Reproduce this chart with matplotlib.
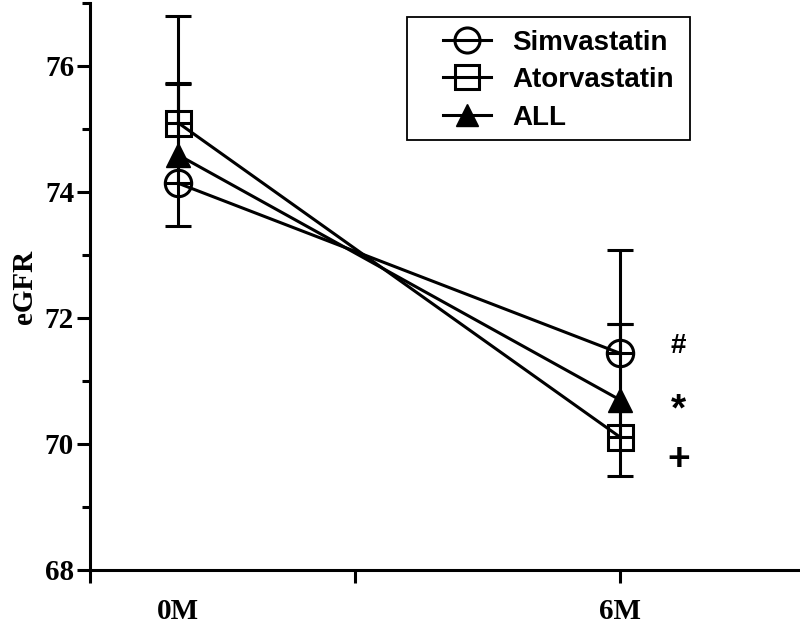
import matplotlib
matplotlib.use("Agg")
import matplotlib.pyplot as plt
from matplotlib.patches import Rectangle

# ── Data ──────────────────────────────────────────────────────────────────────
time_labels = ["0M", "6M"]
time_pos = [0.332, 2.0]

simva_mean = [74.14, 71.44]
simva_err_up = [1.59, 1.64]

atorva_mean = [75.10, 70.11]
atorva_err_up = [1.69, 1.79]

all_mean = [74.59, 70.70]
all_err = [1.13, 1.20]

marks = ["#", "*", "+"]
mark_y = [71.55, 70.53, 69.75]
mark_size = [20, 28, 28]

# ── Style ─────────────────────────────────────────────────────────────────────
LW = 2.2
CAP = 9.7
SERIF = ["Liberation Serif", "DejaVu Serif"]
SANS = ["Liberation Sans", "DejaVu Sans"]
W, H = 800, 626

fig = plt.figure(figsize=(8, 6.26), dpi=100)
ax = fig.add_axes([90 / W, 56 / H, 708 / W, 567 / H])

zeros = [0, 0]
ax.errorbar(time_pos, atorva_mean, yerr=[zeros, atorva_err_up], fmt="none",
            ecolor="black", elinewidth=LW, capsize=CAP, capthick=LW)
ax.errorbar(time_pos, simva_mean, yerr=[zeros, simva_err_up], fmt="none",
            ecolor="black", elinewidth=LW, capsize=CAP, capthick=LW)
ax.errorbar(time_pos, all_mean, yerr=all_err, fmt="none",
            ecolor="black", elinewidth=LW, capsize=CAP, capthick=LW)

ax.plot(time_pos, simva_mean, color="black", lw=LW, marker="o", ms=19,
        mfc="none", mec="black", mew=LW, label="Simvastatin")
ax.plot(time_pos, atorva_mean, color="black", lw=LW, marker="s", ms=18,
        mfc="none", mec="black", mew=LW, label="Atorvastatin")
ax.plot(time_pos, all_mean, color="black", lw=LW, marker="^", ms=17,
        mfc="black", mec="black", mew=1, label="ALL")

for m, y, fs in zip(marks, mark_y, mark_size):
    ax.text(2.22, y, m, ha="center", va="center", fontsize=fs,
            fontweight="bold", family=SANS)

# axes
ax.set_xlim(0, 708 / 265)
ax.set_ylim(68, 77)
for s in ["top", "right"]:
    ax.spines[s].set_visible(False)
for s in ["left", "bottom"]:
    ax.spines[s].set_linewidth(LW)

ax.set_yticks([68, 70, 72, 74, 76])
ax.set_yticks([69, 71, 73, 75, 77], minor=True)
ax.tick_params(axis="y", which="major", length=9.5, width=LW, direction="out",
               pad=2)
ax.tick_params(axis="y", which="minor", length=6, width=LW, direction="out")
for lab in ax.get_yticklabels():
    lab.set_family(SERIF)
    lab.set_fontweight("bold")
    lab.set_fontsize(21)

# x ticks: unlabeled major ticks, labels on minor positions
ax.xaxis.remove_overlapping_locs = False
ax.set_xticks([0, 1, 2])
ax.set_xticklabels(["", "", ""])
ax.tick_params(axis="x", which="major", length=9.5, width=LW, direction="out")
ax.set_xticks(time_pos, minor=True)
ax.set_xticklabels(time_labels, minor=True)
ax.tick_params(axis="x", which="minor", length=0, pad=20)
for lab in ax.get_xticklabels(minor=True):
    lab.set_family(SERIF)
    lab.set_fontweight("bold")
    lab.set_fontsize(21)

ax.set_ylabel("eGFR", fontsize=21, fontweight="bold", family=SERIF, labelpad=5)

# legend without frame, then a plain box drawn around it
leg = ax.legend(loc="upper left", bbox_to_anchor=(437 / W, 1 - 24 / H),
                bbox_transform=fig.transFigure, borderaxespad=0,
                prop={"family": SANS, "weight": "bold", "size": 20},
                frameon=False, handlelength=1.75, handletextpad=0.75,
                labelspacing=0.42, borderpad=0.2, markerscale=0.95)
fig.patches.append(Rectangle((407 / W, 1 - 140 / H), 283 / W, 123 / H,
                             transform=fig.transFigure, fill=False,
                             edgecolor="black", linewidth=1.3))

fig.savefig("out.png", dpi=100)
